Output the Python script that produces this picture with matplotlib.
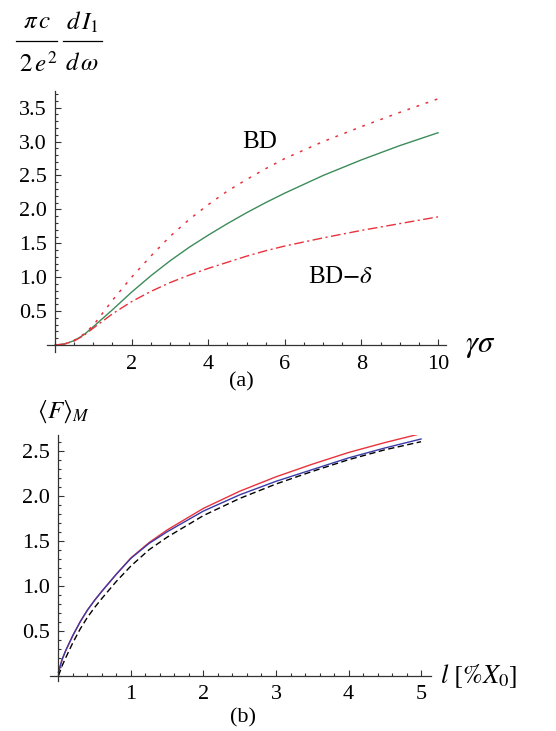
import numpy as np
import matplotlib.pyplot as plt
from matplotlib.lines import Line2D

plt.rcParams['font.family'] = ['Liberation Serif', 'DejaVu Serif']
plt.rcParams['mathtext.fontset'] = 'stix'

# panel (a): spectrum vs gamma*sigma
gs = [0, 0.25, 0.5, 0.75, 1, 1.5, 2, 2.5, 3, 3.5, 4, 4.5, 5, 5.5, 6, 7, 8, 9, 10]
green_solid = [0, 0.015, 0.065, 0.15, 0.27, 0.52, 0.78, 1.02, 1.24, 1.44, 1.62, 1.79, 1.95,
               2.10, 2.24, 2.50, 2.73, 2.94, 3.13]
bd_dotted = [0, 0.015, 0.07, 0.16, 0.29, 0.66, 1.0, 1.31, 1.6, 1.85, 2.07, 2.27, 2.44,
             2.60, 2.75, 3.0, 3.22, 3.43, 3.63]
bd_delta = [0, 0.015, 0.06, 0.14, 0.25, 0.46, 0.64, 0.79, 0.92, 1.03, 1.13, 1.22, 1.31,
            1.39, 1.46, 1.58, 1.69, 1.79, 1.89]

# panel (b): <F>_M vs l [%X0]
ll = [0, 0.05, 0.1, 0.2, 0.3, 0.4, 0.5, 0.6, 0.8, 1.0, 1.25, 1.5, 2, 2.5, 3, 3.5, 4, 4.5, 5]
f_red = [0.04, 0.18, 0.28, 0.45, 0.60, 0.73, 0.84, 0.94, 1.13, 1.31, 1.48, 1.62, 1.86,
         2.05, 2.21, 2.35, 2.48, 2.59, 2.69]
f_blue = [0.04, 0.18, 0.28, 0.45, 0.60, 0.73, 0.84, 0.94, 1.13, 1.305, 1.47, 1.60, 1.83,
          2.01, 2.16, 2.29, 2.42, 2.53, 2.63]
f_black = [0.0, 0.11, 0.20, 0.37, 0.52, 0.65, 0.76, 0.86, 1.05, 1.22, 1.40, 1.54, 1.78,
           1.97, 2.13, 2.27, 2.40, 2.51, 2.60]

red = '#e8323c'
fs = 16


def style_axes(ax):
    for s in ['top', 'right']:
        ax.spines[s].set_visible(False)
    for s in ['left', 'bottom']:
        ax.spines[s].set_position(('data', 0))
        ax.spines[s].set_color('#333333')
        ax.spines[s].set_linewidth(0.9)
    ax.tick_params(which='both', direction='in', colors='#333333', labelcolor='black',
                   labelsize=fs, width=0.8)
    ax.tick_params(which='major', length=4)
    ax.tick_params(which='minor', length=2.2)
    ax.tick_params(axis='x', pad=7)
    ax.tick_params(axis='y', pad=6)


fig = plt.figure(figsize=(5.56, 7.31), dpi=100)

ax1 = fig.add_axes([0.0838, 0.5178, 0.7178, 0.3572])
ax1.plot(gs, green_solid, color='#3c8c5a', lw=1.0)
ax1.plot(gs, bd_dotted, color=red, lw=1.1, linestyle=(0, (1.8, 4.5)))
ax1.plot(gs, bd_delta, color=red, lw=1.0, linestyle=(0, (7, 2.5, 1.5, 2.5)))
ax1.set_xlim(-0.22, 10.2)
ax1.set_ylim(-0.11, 3.74)
style_axes(ax1)
ax1.set_xticks([2, 4, 6, 8, 10])
ax1.set_xticks(np.arange(0, 10.01, 0.5), minor=True)
ax1.set_yticks([0.5, 1.0, 1.5, 2.0, 2.5, 3.0, 3.5])
ax1.set_yticks(np.arange(0, 3.71, 0.1), minor=True)
ax1.text(5.35, 3.0, 'BD', fontsize=18, ha='center', va='center')
ax1.text(7.45, 1.0, r'BD$-\delta$', fontsize=18, ha='center', va='center')
ax1.text(10.7, 0.0, r'$\gamma\sigma$', fontsize=22, ha='left', va='center')

ax2 = fig.add_axes([0.0908, 0.0688, 0.6847, 0.3368])
ax2.plot(ll, f_red, color=red, lw=1.0)
ax2.plot(ll, f_blue, color='#3a3aa8', lw=1.0)
ax2.plot(ll, f_black, color='black', lw=1.0, linestyle=(0, (4.5, 2.5)))
ax2.set_xlim(-0.11, 5.14)
ax2.set_ylim(-0.055, 2.68)
style_axes(ax2)
ax2.set_xticks([1, 2, 3, 4, 5])
ax2.set_xticks(np.arange(0, 5.01, 0.2), minor=True)
ax2.set_yticks([0.5, 1.0, 1.5, 2.0, 2.5])
ax2.set_yticks(np.arange(0, 2.61, 0.1), minor=True)
ax2.text(5.26, 0.0, r'$l\ [\%X_0]$', fontsize=19, ha='left', va='center')

# y label of panel (a): two stacked fractions, placed in pixel coords
W, H = 556, 731


def ftext(px, py, s, size=18):
    fig.text(px / W, 1 - py / H, s, fontsize=size, ha='center', va='center')


ftext(37, 22, r'$\pi\,c$')
ftext(38, 64, r'$2\,e^2$')
ftext(82, 22, r'$d\,I_1$')
ftext(82, 64, r'$d\,\omega$')
for x0, x1 in [(16, 57), (63, 102)]:
    fig.add_artist(Line2D([x0 / W, x1 / W], [1 - 41 / H, 1 - 41 / H],
                          transform=fig.transFigure, color='black', lw=0.9))

ftext(63, 412, r'$\langle F\rangle_M$')
fig.text(0.435, 0.4774, '(a)', fontsize=fs, ha='center', va='center')
fig.text(0.437, 0.0178, '(b)', fontsize=fs, ha='center', va='center')

fig.savefig('out.png', dpi=100)
